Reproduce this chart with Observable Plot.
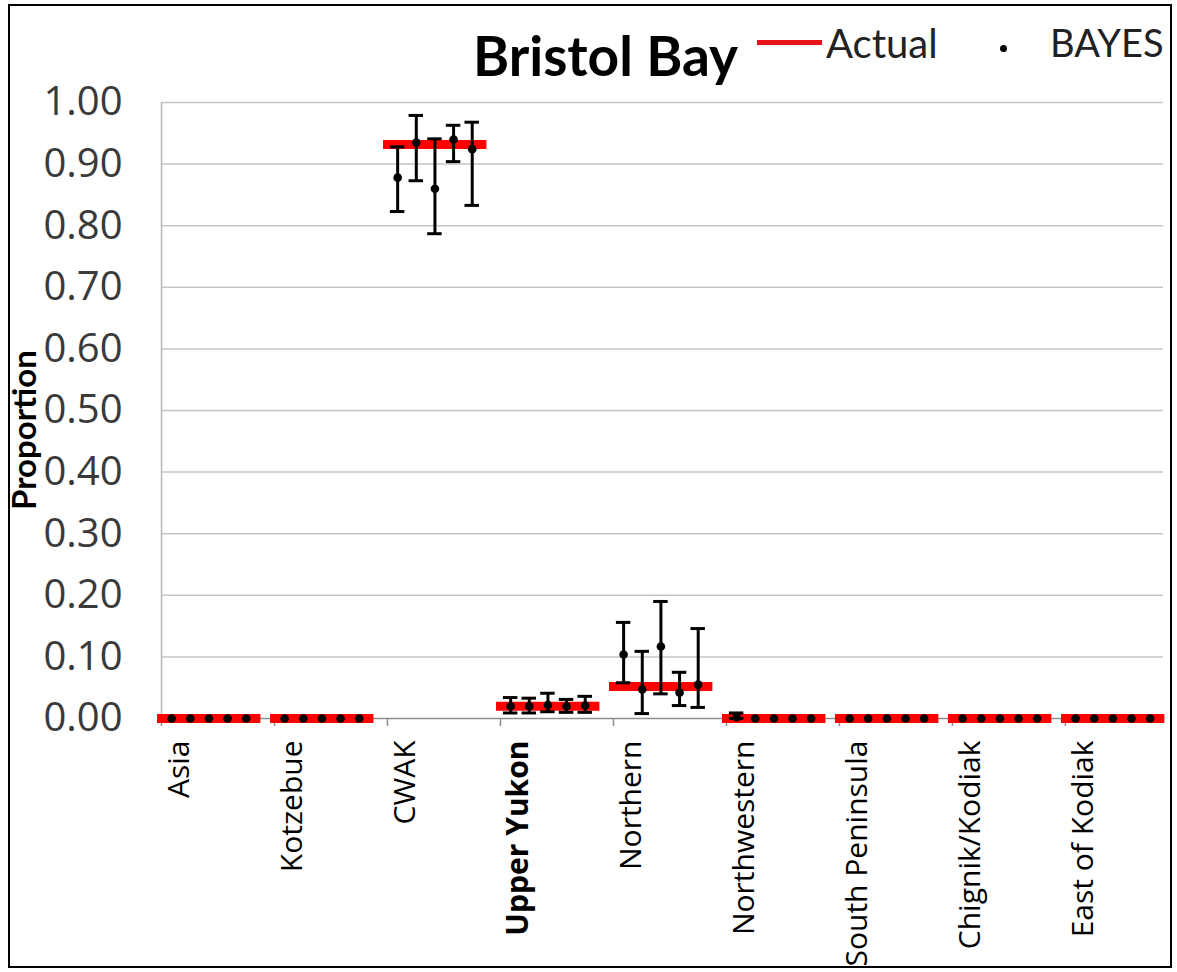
<!DOCTYPE html>
<html><head><meta charset="utf-8">
<script src="https://cdn.jsdelivr.net/npm/d3@7"></script>
<script src="https://cdn.jsdelivr.net/npm/@observablehq/plot@0.6"></script>
<style>
body{margin:0;background:#fff;}
#wrap{position:relative;width:1177px;height:972px;overflow:hidden;font-family:Lato,"Open Sans",sans-serif;background:#fff;}
#chart{position:absolute;left:0;top:0;}
#frame{position:absolute;left:8px;top:4px;width:1160px;height:960px;border:2px solid #000;pointer-events:none;}
#title{position:absolute;left:473px;top:28px;font-size:55px;font-weight:bold;color:#000;line-height:1;white-space:nowrap;}
.lg{position:absolute;font-size:40px;color:#222;line-height:1;white-space:nowrap;}
#lgline{position:absolute;left:757px;top:40px;width:65px;height:5px;background:#e8141c;}
#lgdot{position:absolute;left:1000px;top:45px;width:7px;height:7px;border-radius:50%;background:#000;}
#ylab{position:absolute;left:23px;top:430px;transform:translate(-50%,-50%) rotate(-90deg);font-size:33px;font-weight:bold;color:#000;white-space:nowrap;line-height:1;}
</style></head>
<body>
<div id="wrap">
  <div id="chart"></div>
  <div id="title">Bristol Bay</div>
  <div id="lgline"></div>
  <div class="lg" style="left:826px;top:23px;">Actual</div>
  <div id="lgdot"></div>
  <div class="lg" style="left:1050px;top:23px;font-size:38px;">BAYES</div>
  <div id="ylab">Proportion</div>
  <div id="frame"></div>
</div>
<script>
const categories = ["Asia","Kotzebue","CWAK","Upper Yukon","Northern","Northwestern","South Peninsula","Chignik/Kodiak","East of Kodiak"];
const boldCategories = ["Upper Yukon"];
const actual = [0, 0, 0.932, 0.020, 0.052, 0, 0, 0, 0];
const bayesMean = [
  [0,0,0,0,0],
  [0,0,0,0,0],
  [0.878,0.935,0.860,0.940,0.924],
  [0.020,0.020,0.022,0.020,0.021],
  [0.104,0.047,0.117,0.042,0.055],
  [0.002,0,0,0,0],
  [0,0,0,0,0],
  [0,0,0,0,0],
  [0,0,0,0,0]
];
const bayesLower = [
  [0,0,0,0,0],
  [0,0,0,0,0],
  [0.823,0.873,0.787,0.904,0.833],
  [0.009,0.009,0.011,0.010,0.010],
  [0.058,0.008,0.040,0.021,0.018],
  [0,0,0,0,0],
  [0,0,0,0,0],
  [0,0,0,0,0],
  [0,0,0,0,0]
];
const bayesUpper = [
  [0,0,0,0,0],
  [0,0,0,0,0],
  [0.928,0.979,0.941,0.963,0.968],
  [0.034,0.033,0.041,0.031,0.036],
  [0.156,0.109,0.190,0.075,0.146],
  [0.009,0,0,0,0],
  [0,0,0,0,0],
  [0,0,0,0,0],
  [0,0,0,0,0]
];
const yTicks = [0,0.1,0.2,0.3,0.4,0.5,0.6,0.7,0.8,0.9,1.0];

// layout within each category slot (scale units: one slot = 1)
const slotStart = -0.035, slotEnd = 0.88, repStart = 0.09, repStep = 0.165, capHalf = 0.064, xMax = 8.868;

const rows = [];
categories.forEach((c, i) => bayesMean[i].forEach((m, k) => rows.push({
  cat: c, i, pos: i + repStart + repStep * k, mean: m, lo: bayesLower[i][k], hi: bayesUpper[i][k]
})));
const bars = rows.filter(d => d.hi > d.lo);
const actualRows = categories.map((c, i) => ({cat: c, i, actual: actual[i]}));
const labelRows = categories.map((c, i) => ({cat: c, i, bold: boldCategories.includes(c)}));

const labelOpts = {x: "i", frameAnchor: "bottom", text: "cat", rotate: -90, textAnchor: "end", lineAnchor: "middle", dx: 18, dy: 22, fontSize: 30, fill: "#000", fontFamily: "'Open Sans', sans-serif"};

const chart = Plot.plot({
  width: 1177, height: 972,
  marginLeft: 161, marginRight: 14, marginTop: 102, marginBottom: 254,
  style: {fontFamily: "Lato, 'Open Sans', sans-serif", background: "transparent"},
  x: {domain: [0, xMax], axis: null},
  y: {domain: [0, 1], axis: null},
  marks: [
    Plot.ruleY(yTicks.filter(t => t > 0), {x1: 0, x2: xMax, stroke: "#c4c4c4", strokeWidth: 1.5}),
    Plot.ruleX([0], {y1: 0, y2: 1, stroke: "#b8b8b8", strokeWidth: 1.5}),
    Plot.ruleY([0], {x1: 0, x2: xMax, stroke: "#8f8f8f", strokeWidth: 1.5}),
    Plot.axisX(d3.range(categories.length), {tickSize: 8, tickFormat: () => "", stroke: "#8f8f8f", strokeWidth: 1.5}),
    Plot.axisY(yTicks, {tickSize: 0, tickPadding: 39, tickFormat: d3.format(".2f"), fontSize: 40, color: "#3a3a3a", fontFamily: "'Open Sans', sans-serif"}),
    Plot.text(labelRows.filter(d => !d.bold), labelOpts),
    Plot.text(labelRows.filter(d => d.bold), {...labelOpts, fontWeight: "bold"}),
    Plot.ruleY(actualRows, {x1: d => d.i + slotStart, x2: d => d.i + slotEnd, y: "actual", stroke: "#f00", strokeWidth: 9}),
    Plot.ruleX(bars, {x: "pos", y1: "lo", y2: "hi", stroke: "#000", strokeWidth: 3}),
    Plot.ruleY(bars, {x1: d => d.pos - capHalf, x2: d => d.pos + capHalf, y: "hi", stroke: "#000", strokeWidth: 3}),
    Plot.ruleY(bars, {x1: d => d.pos - capHalf, x2: d => d.pos + capHalf, y: "lo", stroke: "#000", strokeWidth: 3}),
    Plot.dot(rows, {x: "pos", y: "mean", r: 4.3, fill: "#000"})
  ]
});
document.getElementById("chart").appendChild(chart);
</script>
</body></html>
